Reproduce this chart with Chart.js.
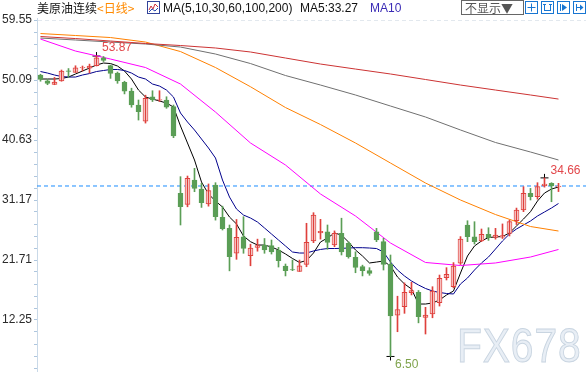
<!DOCTYPE html>
<html>
<head>
<meta charset="utf-8">
<script src="https://cdn.jsdelivr.net/npm/chart.js@4.4.1/dist/chart.umd.min.js"></script>
<style>
  body { margin: 0; background: #fff; }
  .wrap { position: relative; width: 586px; height: 372px; overflow: hidden; font-family: 'Liberation Sans', Arial, sans-serif; font-size: 12px; }
  .wrap canvas { position: absolute; left: 0; top: 0; }
  .head { position: absolute; top: 0; line-height: 16px; white-space: nowrap; color: #111; }
  .cjk { font-family: 'Noto Sans CJK SC', sans-serif; }
  .btn { position: absolute; left: 461px; top: 0; width: 58px; height: 13px; border: 1px solid #666; line-height: 13px; color: #555; padding-left: 3px; box-sizing: content-box; }
  .ico { position: absolute; top: 1px; }
  .mark { position: absolute; left: 457px; top: 318px; font: 48px 'Liberation Sans', Arial, sans-serif; color: #e8eef5; -webkit-text-stroke: 1px #c9d5e1; transform: scaleX(0.85); transform-origin: 0 0; letter-spacing: 1px; }
</style>
</head>
<body>
<div class="wrap">
  <canvas id="kline" width="586" height="372"></canvas>
  <div class="head cjk" style="left:37px">美原油连续<span style="color:#ff8a00">&lt;日线&gt;</span></div>
  <svg class="ico" style="left:147px" width="13" height="13"><rect x="0.5" y="0.5" width="12" height="12" fill="#fff" stroke="#33449a"/><polyline points="2,9 4,5 6,8 8,3 11,6" fill="none" stroke="#d0303a"/><polyline points="2,11 5,8 8,10 11,7" fill="none" stroke="#2a4ab0"/></svg>
  <div class="head" style="left:163px">MA(5,10,30,60,100,200)</div>
  <div class="head" style="left:300px">MA5:33.27</div>
  <div class="head" style="left:370px;color:#3a2bb5">MA10</div>
  <div class="btn cjk">不显示▼</div>
  <svg class="ico" style="left:525px" width="13" height="13"><rect x="0.5" y="0.5" width="12" height="12" fill="#fff" stroke="#1876d2"/><path d="M6.5 2.5v8M2.5 6.5h8" stroke="#1876d2"/></svg>
  <svg class="ico" style="left:541px" width="13" height="13"><rect x="0.5" y="0.5" width="12" height="12" fill="#fff" stroke="#1876d2"/><path d="M3.5 3v7M9.5 3v7M2 3.5h3M8 3.5h3M3.5 9.5h6" stroke="#1876d2"/></svg>
  <svg class="ico" style="left:557px" width="13" height="13"><rect x="0.5" y="0.5" width="12" height="12" fill="#fff" stroke="#1876d2"/><path d="M3.5 3v7" stroke="#1876d2"/><path d="M5 3l5 3.5-5 3.5z" fill="#1876d2"/></svg>
  <svg class="ico" style="left:573px" width="13" height="13"><rect x="0.5" y="0.5" width="12" height="12" fill="#fff" stroke="#1876d2"/><path d="M3.5 3v7M4 6.5h4" stroke="#1876d2"/><path d="M7 3.5l3.5 3-3.5 3z" fill="#1876d2"/></svg>
  <div class="mark">FX678</div>
</div>
<script>
// Daily candles (oldest first)
const opens = [50.88, 49.98, 49.40, 49.93, 51.55, 51.30, 52.00, 51.95, 52.35, 53.60,
  52.35, 51.20, 49.73, 48.35, 46.15, 43.62, 47.45, 46.90, 46.94, 45.90,
  32.23, 30.48, 34.32, 32.90, 30.54, 33.53, 28.44, 26.70, 22.77, 25.38,
  22.40, 23.70, 24.07, 23.97, 23.29, 20.76, 20.20, 19.90, 21.03, 24.70,
  26.00, 26.15, 24.07, 25.90, 24.34, 22.13, 20.66, 20.03, 26.15, 24.60,
  21.08, 13.00, 14.35, 16.55, 16.60, 12.67, 13.20, 15.00, 18.92, 17.50,
  21.20, 27.23, 25.38, 24.70, 25.76, 25.28, 25.30, 25.92, 27.90, 29.60,
  32.23, 31.70, 33.40, 33.80, 33.25]
const closes = [50.20, 49.57, 49.77, 51.50, 51.45, 52.03, 52.10, 52.30, 53.60, 53.20,
  51.15, 49.93, 48.35, 46.15, 45.10, 47.20, 46.94, 47.00, 45.80, 41.26,
  30.11, 34.59, 33.00, 30.75, 32.64, 28.54, 26.65, 22.23, 25.28, 23.55,
  23.60, 24.00, 23.29, 23.00, 21.60, 20.03, 20.13, 20.80, 24.50, 28.80,
  26.25, 24.50, 25.90, 23.00, 22.23, 20.56, 20.03, 19.60, 24.86, 21.03,
  12.88, 13.90, 16.60, 16.90, 12.77, 13.04, 16.80, 18.82, 19.45, 20.76,
  25.00, 25.38, 24.60, 25.76, 25.23, 25.65, 25.55, 27.75, 29.60, 32.23,
  31.70, 33.27, 33.70, 33.40, 33.38]
const highs = [51.00, 50.20, 50.50, 51.67, 51.90, 52.34, 52.30, 52.60, 53.87, 53.80,
  52.45, 51.35, 49.90, 48.80, 46.94, 47.70, 48.40, 48.40, 47.45, 46.15,
  34.85, 34.95, 36.17, 33.80, 33.70, 33.90, 30.20, 27.23, 28.10, 28.54,
  24.20, 25.00, 25.10, 24.86, 23.70, 21.08, 21.71, 21.70, 27.50, 29.17,
  28.12, 27.23, 26.30, 28.30, 24.60, 23.00, 20.90, 20.50, 26.70, 25.13,
  22.50, 16.00, 18.10, 18.20, 16.90, 14.25, 17.50, 19.34, 20.50, 21.30,
  25.40, 27.90, 27.75, 26.60, 26.80, 26.70, 27.40, 28.00, 29.90, 33.27,
  33.00, 33.90, 34.66, 33.90, 33.80]
const lows = [49.90, 49.35, 49.35, 49.90, 50.50, 51.30, 51.50, 51.20, 52.30, 53.00,
  50.35, 49.57, 47.90, 45.80, 43.78, 43.30, 46.70, 46.70, 45.63, 41.00,
  27.23, 30.10, 32.48, 30.00, 30.20, 28.00, 26.44, 20.00, 21.82, 22.77,
  20.80, 23.10, 22.77, 22.65, 20.60, 19.20, 20.03, 19.90, 20.65, 24.44,
  25.00, 23.40, 23.80, 22.50, 22.00, 19.70, 19.20, 19.30, 24.60, 20.13,
  6.50, 10.40, 13.30, 16.20, 11.80, 10.04, 12.60, 14.45, 18.56, 17.30,
  21.00, 24.60, 24.23, 24.60, 24.80, 25.00, 25.10, 25.50, 27.30, 29.33,
  31.17, 31.30, 33.20, 30.90, 32.50]

// Moving averages
const ma5 = [50.25, 50.25, 50.25, 50.33, 50.56, 51.04, 51.51, 51.98, 52.46, 52.77,
  52.69, 52.30, 51.51, 50.25, 48.51, 47.41, 47.09, 46.78, 46.46, 45.83,
  42.84, 40.16, 37.48, 34.01, 32.12, 31.01, 30.07, 28.49, 27.39, 25.49,
  24.60, 24.07, 24.07, 23.76, 23.29, 22.66, 21.95, 21.32, 21.63, 22.81,
  24.55, 25.18, 25.97, 25.65, 24.55, 23.29, 22.34, 21.24, 21.39, 21.55,
  20.76, 19.03, 17.93, 17.14, 14.77, 14.77, 14.93, 15.40, 16.19, 16.82,
  19.66, 22.34, 23.92, 24.71, 25.26, 25.34, 25.42, 25.97, 27.07, 28.17,
  29.33, 31.01, 32.27, 32.90, 33.22]
const ma10 = [51.43, 51.19, 50.88, 50.64, 50.56, 50.56, 50.88, 51.11, 51.43, 51.59,
  51.75, 51.75, 51.59, 51.19, 50.56, 50.25, 49.46, 49.14, 48.51, 47.41,
  44.89, 43.47, 42.21, 40.79, 39.37, 37.79, 34.32, 31.64, 29.75, 28.80,
  28.33, 27.70, 26.76, 25.81, 24.86, 23.92, 22.97, 22.81, 22.81, 23.13,
  23.37, 23.52, 23.52, 23.55, 23.60, 23.65, 23.65, 23.60, 23.52, 22.97,
  21.39, 20.13, 19.19, 18.40, 17.77, 17.22, 16.82, 16.59, 16.43, 16.35,
  17.93, 18.87, 20.13, 21.24, 22.18, 23.44, 24.71, 25.81, 26.60, 27.23,
  27.86, 28.65, 29.28, 29.91, 30.62]
// slow averages, sampled every few candles
const slowIdx = [0, 5, 10, 15, 20, 25, 30, 35, 40, 45, 50, 55, 60, 65, 70, 74]
const ma30 = [56.55, 54.66, 53.40, 52.06, 49.46, 45.04, 40.16, 36.69, 32.12, 28.65, 24.39, 21.32, 20.84, 21.24, 22.18, 23.37]
const ma60 = [57.42, 57.11, 56.79, 56.08, 54.58, 52.06, 49.03, 45.75, 43.07, 40.16, 37.00, 33.85, 31.17, 28.88, 26.99, 26.28]
const ma100 = [56.71, 56.40, 56.08, 55.77, 55.29, 54.19, 52.69, 50.80, 49.30, 47.73, 45.99, 44.26, 42.21, 40.24, 38.74, 37.48]
const ma200 = [56.95, 56.63, 56.24, 55.85, 55.53, 55.14, 54.51, 53.56, 52.61, 51.82, 51.04, 50.17, 49.30, 48.51, 47.73, 47.09]

// Y axis
const yMajor = [12.25, 21.71, 31.17, 40.63, 50.09, 59.55]
const yMinor = [4.68, 6.57, 8.46, 10.36, 14.14, 16.03, 17.92, 19.82, 23.60, 25.49, 27.38, 29.28,
  33.06, 34.95, 36.84, 38.74, 42.52, 44.41, 46.30, 48.20, 51.98, 53.87, 55.76, 57.66]

// Marked extremes: candle index, price
const markIdx = [8, 72, 50]
const markVal = [highs[8], highs[72], lows[50]]
const markColor = ['#e2474b', '#e2474b', '#7fa34c']

const red = '#df403c'
const green = '#5b9e56'
const idx = opens.map((_, i) => i)
const up = idx.map(i => closes[i] >= opens[i])
const lastClose = closes[closes.length - 1]
const xMin = -0.5
const xMax = 77.93

const toPoints = (xs, ys) => xs.map((x, k) => ({ x: x, y: ys[k] }))
const maLine = (label, points, color) => ({
  type: 'line',
  label: label,
  data: points,
  borderColor: color,
  borderWidth: 1,
  pointRadius: 0,
  tension: 0
})

// Price labels next to the extreme markers
const markLabels = {
  id: 'markLabels',
  afterDatasetsDraw(chart) {
    const { ctx, scales } = chart
    const offsets = [[5.5, -8], [6, -7.5], [4.5, 8]]
    ctx.save()
    ctx.font = "12px 'Liberation Sans', Arial, sans-serif"
    ctx.textBaseline = 'middle'
    markIdx.forEach((i, k) => {
      ctx.fillStyle = markColor[k]
      ctx.fillText(markVal[k].toFixed(2),
        scales.x.getPixelForValue(i) + offsets[k][0],
        scales.y.getPixelForValue(markVal[k]) + offsets[k][1])
    })
    ctx.restore()
  }
}

new Chart(document.getElementById('kline'), {
  type: 'bar',
  data: {
    datasets: [
      {
        label: 'wick',
        data: idx.map(i => ({ x: i, y: [lows[i], highs[i]] })),
        backgroundColor: up.map(u => u ? red : green),
        barThickness: 1,
        grouped: false
      },
      {
        label: 'body',
        data: idx.map(i => ({ x: i, y: [opens[i], closes[i]] })),
        backgroundColor: up.map(u => u ? '#ffffff' : green),
        borderColor: up.map(u => u ? red : green),
        borderWidth: 1,
        borderSkipped: false,
        barThickness: 5,
        grouped: false
      },
      maLine('MA200', toPoints(slowIdx, ma200), '#cc3333'),
      maLine('MA100', toPoints(slowIdx, ma100), '#707070'),
      maLine('MA60', toPoints(slowIdx, ma60), '#ff8000'),
      maLine('MA30', toPoints(slowIdx, ma30), '#ff00ff'),
      maLine('MA10', toPoints(idx, ma10), '#00008c'),
      maLine('MA5', toPoints(idx, ma5), '#000000'),
      {
        type: 'line',
        label: 'last',
        data: [{ x: xMin, y: lastClose }, { x: xMax, y: lastClose }],
        borderColor: '#1a8cff',
        borderDash: [4, 3],
        borderWidth: 1,
        pointRadius: 0
      },
      {
        type: 'line',
        label: 'marks',
        data: toPoints(markIdx, markVal),
        showLine: false,
        pointStyle: 'cross',
        pointRadius: 4,
        pointBorderColor: '#000',
        pointBorderWidth: 1
      }
    ]
  },
  options: {
    responsive: false,
    animation: false,
    events: [],
    layout: { autoPadding: false, padding: { top: 18, right: 0, bottom: 0, left: 0 } },
    plugins: {
      legend: { display: false },
      tooltip: { enabled: false }
    },
    scales: {
      x: { type: 'linear', display: false, offset: false, grid: { offset: false }, min: xMin, max: xMax },
      y: {
        min: 4.05,
        max: 59.87,
        afterBuildTicks: (scale) => {
          scale.ticks = yMajor.concat(yMinor).sort((a, b) => a - b).map(v => ({ value: v }))
        },
        afterFit: (scale) => {
          scale.width = 37
          scale.paddingTop = 0
          scale.paddingBottom = 0
        },
        ticks: {
          autoSkip: false,
          padding: 2,
          color: '#2b2b2b',
          font: { family: "'Liberation Sans', Arial, sans-serif", size: 12 },
          callback: (v) => yMajor.includes(v) ? v.toFixed(2) : ''
        },
        grid: {
          color: (c) => c.tick && c.tick.value === yMajor[yMajor.length - 1] ? '#e2e8ee' : 'rgba(0,0,0,0)',
          tickColor: '#aec6de',
          tickLength: 3
        },
        border: { color: '#c9d9e8', dash: [4, 3] }
      }
    }
  },
  plugins: [markLabels]
})
</script>
</body>
</html>
